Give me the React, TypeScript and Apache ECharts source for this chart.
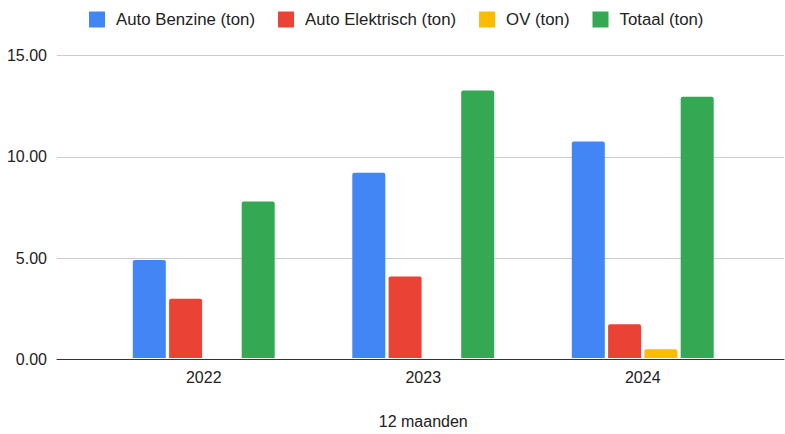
import React, { useEffect, useRef } from "react";
import * as echarts from "echarts";

const categories = ["2022", "2023", "2024"];
const benzine = [4.86, 9.19, 10.73];
const elektrisch = [2.94, 4.04, 1.67];
const ov = [0, 0, 0.43];
const totaal = [7.76, 13.27, 12.95];
const seriesNames = ["Auto Benzine (ton)", "Auto Elektrisch (ton)", "OV (ton)", "Totaal (ton)"];
const colors = ["#4285F4", "#EA4335", "#FBBC04", "#34A853"];
const xAxisTitle = "12 maanden";

const FONT = "'Liberation Sans', Arial, sans-serif";

export default function App() {
  const ref = useRef<HTMLDivElement>(null);
  useEffect(() => {
    if (!ref.current) return;
    const chart = echarts.init(ref.current, undefined, { renderer: "svg" });
    const values = [benzine, elektrisch, ov, totaal];
    const top = 55.5;
    const bottom = 74.5;
    chart.setOption({
      animation: false,
      textStyle: { fontFamily: FONT },
      legend: {
        top: 6,
        left: 84,
        icon: "rect",
        itemWidth: 16,
        itemHeight: 16,
        itemGap: 23,
        textStyle: { fontSize: 16.8, color: "#222", fontFamily: FONT, padding: [0, 0, 0, 6] },
        data: seriesNames,
      },
      grid: [
        { left: 94, right: 32.5, top, bottom },
        { left: 57, right: 1, top, bottom },
      ],
      xAxis: [
        {
          type: "category",
          gridIndex: 0,
          data: categories,
          axisLine: { show: false },
          axisTick: { show: false },
          axisLabel: { fontSize: 16, color: "#222", margin: 11, fontFamily: FONT },
          name: xAxisTitle,
          nameLocation: "middle",
          nameGap: 55,
          nameTextStyle: { fontSize: 16, color: "#222", fontFamily: FONT },
        },
        {
          type: "value",
          gridIndex: 1,
          min: 0,
          max: 1,
          axisLine: { show: true, lineStyle: { color: "#333", width: 1 } },
          axisTick: { show: false },
          axisLabel: { show: false },
          splitLine: { show: false },
        },
      ],
      yAxis: [
        {
          type: "value",
          gridIndex: 0,
          min: 0,
          max: 15,
          interval: 5,
          show: false,
          splitLine: { show: false },
        },
        {
          type: "value",
          gridIndex: 1,
          min: 0,
          max: 15,
          interval: 5,
          axisLine: { show: false },
          axisTick: { show: false },
          axisLabel: {
            fontSize: 16,
            color: "#222",
            margin: 10,
            fontFamily: FONT,
            formatter: (v: number) => v.toFixed(2),
          },
          splitLine: { show: true, lineStyle: { color: "#cccccc", width: 1 } },
        },
      ],
      series: seriesNames.map((name, i) => ({
        name,
        type: "bar",
        xAxisIndex: 0,
        yAxisIndex: 0,
        data: values[i],
        barWidth: 33,
        barGap: "10%",
        itemStyle: { color: colors[i], borderRadius: [2, 2, 0, 0] },
      })),
    });
    return () => chart.dispose();
  }, []);
  return (
    <div
      ref={ref}
      style={{ position: "fixed", left: 0, top: 0, width: 785, height: 434, background: "#fff" }}
    />
  );
}
